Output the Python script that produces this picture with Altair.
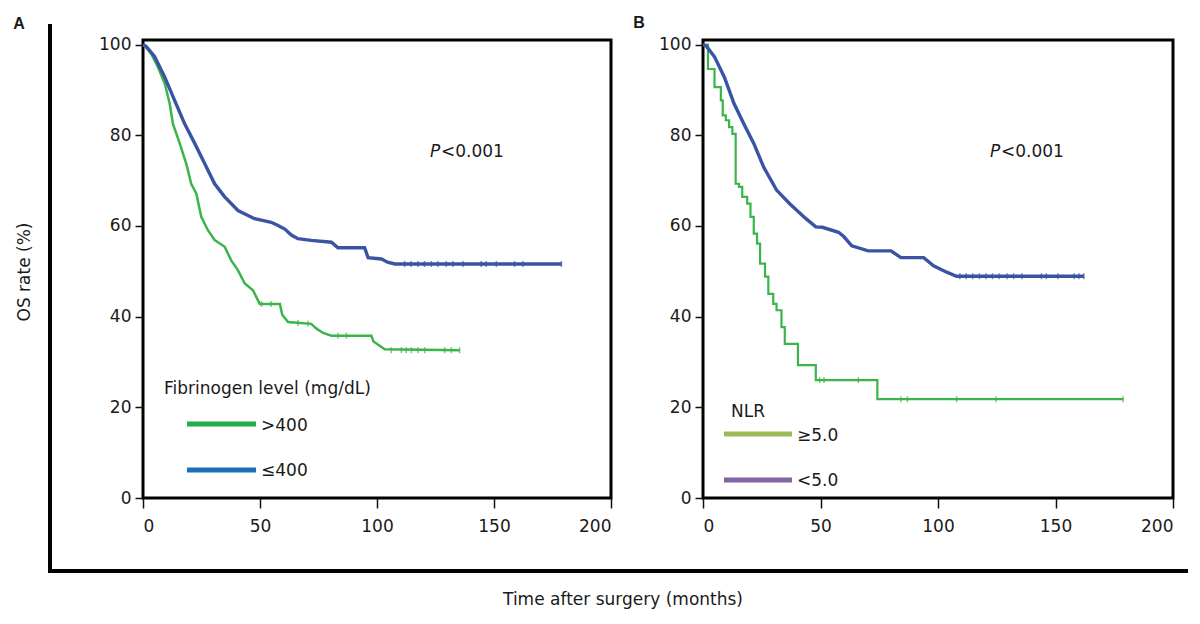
import altair as alt
import pandas as pd

FONT = "DejaVu Sans"
BOLD_FONT = "Liberation Sans"
BLUE = "#3a54a4"
GREEN = "#3bb54a"
LEG_GREEN = "#21ae4b"
LEG_BLUE = "#1c70b8"
LEG_OLIVE = "#9bbb59"
LEG_PURPLE = "#8064a2"

# ---------------- Panel A : Fibrinogen level ----------------
a_blue_t = [0, 1.5, 5.0, 9.3, 13.5, 17.8, 22.1, 26.4, 30.6, 34.9, 40.6, 47.7, 54.8, 57.7,
            60.6, 63.4, 66.2, 71.9, 80.5, 83.3, 94.7, 96.2, 101.9, 104.5, 107.6, 178.8]
a_blue_s = [100, 99.5, 97.3, 92.8, 87.7, 82.5, 78.2, 73.7, 69.3, 66.4, 63.4, 61.6, 60.8, 60.1,
            59.3, 58.0, 57.2, 56.8, 56.4, 55.2, 55.2, 53.0, 52.7, 52.0, 51.6, 51.6]

a_green_t = [0, 0.7, 3.5, 6.4, 9.3, 11.4, 12.8, 15.7, 18.5, 20.6, 22.8, 24.9, 27.8, 30.6,
             34.9, 37.7, 40.6, 43.5, 47.0, 49.9, 58.5, 59.5, 62.0, 71.9, 74.0, 77.0, 80.5,
             97.6, 98.5, 103.3, 135.3]
a_green_s = [100, 99.8, 98.0, 95.0, 91.4, 87.0, 82.5, 78.2, 73.7, 69.3, 67.1, 62.0, 59.0, 56.9,
             55.4, 52.4, 50.2, 47.3, 45.8, 42.8, 42.8, 40.4, 38.8, 38.4, 37.4, 36.4, 35.8,
             35.8, 34.5, 32.8, 32.6]

a_blue_cens_t = [111.8, 114.6, 117.5, 120.3, 123.2, 126.0, 129.6, 132.4, 136.7, 144.5,
                 146.7, 151.0, 158.8, 162.3, 178.8]
a_blue_cens_s = [51.6, 51.6, 51.6, 51.6, 51.6, 51.6, 51.6, 51.6, 51.6, 51.6,
                 51.6, 51.6, 51.6, 51.6, 51.6]
a_green_cens_t = [50.6, 54.8, 66.2, 70.5, 83.3, 86.9, 106.1, 110.4, 112.5, 114.7, 117.5,
                  120.4, 128.9, 131.8, 135.3]
a_green_cens_s = [42.8, 42.8, 38.6, 38.5, 35.8, 35.8, 32.6, 32.6, 32.6, 32.6, 32.6,
                  32.6, 32.6, 32.6, 32.6]

a_legend_title = "Fibrinogen level (mg/dL)"
a_legend_labels = [">400", "≤400"]

# ---------------- Panel B : NLR ----------------
b_blue_t = [0, 1.5, 4.9, 9.1, 13.2, 17.4, 21.6, 25.8, 31.3, 36.9, 43.8, 48.0, 50.8, 57.7,
            60.0, 63.3, 70.3, 80.0, 84.2, 93.9, 98.1, 103.7, 107.9, 162.1]
b_blue_s = [100, 99.6, 97.3, 92.8, 87.0, 82.5, 78.2, 73.0, 67.9, 64.9, 61.6, 59.8, 59.7, 58.6,
            57.6, 55.6, 54.5, 54.5, 53.0, 53.0, 51.2, 49.8, 48.9, 48.9]

b_green_t = [0, 2.1, 4.9, 7.6, 8.4, 9.7, 11.1, 12.5, 13.9, 15.3, 16.7, 18.8, 20.2, 21.6,
             23.0, 24.3, 26.4, 27.8, 29.9, 31.3, 33.4, 34.8, 40.4, 48.0, 74.2, 178.8]
b_green_s = [100, 94.6, 90.6, 87.7, 84.4, 83.3, 81.8, 80.3, 69.3, 68.6, 66.4, 64.9, 62.0, 58.3,
             56.1, 51.7, 48.8, 45.0, 42.8, 41.4, 37.7, 34.0, 29.3, 26.0, 21.8, 21.8]

b_blue_cens_t = [109.3, 112.0, 114.8, 117.6, 120.4, 123.2, 126.0, 129.4, 132.2, 135.7,
                 144.0, 146.1, 151.0, 157.9, 160.0, 162.1]
b_blue_cens_s = [48.9, 48.9, 48.9, 48.9, 48.9, 48.9, 48.9, 48.9, 48.9, 48.9,
                 48.9, 48.9, 48.9, 48.9, 48.9, 48.9]
b_green_cens_t = [49.6, 51.5, 66.1, 84.2, 87.0, 107.9, 124.6, 178.8]
b_green_cens_s = [26.0, 26.0, 26.0, 21.8, 21.8, 21.8, 21.8, 21.8]

b_legend_title = "NLR"
b_legend_labels = ["≥5.0", "<5.0"]

x_ticks = [0, 50, 100, 150, 200]
y_ticks = [0, 20, 40, 60, 80, 100]

x_title = "Time after surgery (months)"
y_title = "OS rate (%)"
p_text = "<0.001"

xsc = alt.Scale(domain=[0, 200], nice=False)
ysc = alt.Scale(domain=[0, 101], nice=False)


def X():
    return alt.X("t:Q", scale=xsc, axis=alt.Axis(values=x_ticks, title=None, format="d"))


def Y():
    return alt.Y("s:Q", scale=ysc, axis=alt.Axis(values=y_ticks, title=None, format="d"))


def curve(t, s, color, width, interp):
    df = pd.DataFrame({"t": t, "s": s, "i": list(range(len(t)))})
    return alt.Chart(df).mark_line(color=color, strokeWidth=width, interpolate=interp).encode(
        x=X(), y=Y(), order="i:Q")


def cens(t, s, color):
    df = pd.DataFrame({"t": t, "s": s})
    return alt.Chart(df).mark_tick(color=color, orient="vertical", size=6, thickness=1.5).encode(
        x=X(), y=Y())


one = pd.DataFrame({"k": [0]})


def txt(text, x, y, size=17, font=FONT, **kw):
    return alt.Chart(one).mark_text(text=text, font=font, fontSize=size, color="#1a1a1a",
                                    baseline="middle", **kw).encode(
        x=alt.value(x), y=alt.value(y))


def seg(x1, x2, y, color, width):
    return alt.Chart(one).mark_rule(color=color, strokeWidth=width).encode(
        x=alt.value(x1), x2=alt.value(x2), y=alt.value(y))


def vseg(x, y1, y2, color, width):
    return alt.Chart(one).mark_rule(color=color, strokeWidth=width).encode(
        x=alt.value(x), y=alt.value(y1), y2=alt.value(y2))


panel_a = alt.layer(
    curve(a_green_t, a_green_s, GREEN, 2.5, "linear"),
    curve(a_blue_t, a_blue_s, BLUE, 3.4, "linear"),
    cens(a_green_cens_t, a_green_cens_s, GREEN),
    cens(a_blue_cens_t, a_blue_cens_s, BLUE),
    txt("P", 287, 112, fontStyle="italic", align="left"),
    txt(p_text, 298, 112, align="left"),
    txt(a_legend_title, 21, 349, align="left"),
    seg(44, 113, 384, LEG_GREEN, 5),
    txt(a_legend_labels[0], 118, 386, align="left"),
    seg(44, 113, 430, LEG_BLUE, 5),
    txt(a_legend_labels[1], 118, 431, align="left"),
    # outer figure frame and shared labels
    vseg(-93, -16, 533, "black", 4),
    seg(-95, 1045, 531, "black", 4),
    txt("A", -124, -16, size=16, font=BOLD_FONT, fontWeight="bold", align="center"),
    txt(y_title, -118, 232, angle=270, align="center"),
    txt(x_title, 480, 560, align="center"),
).properties(width=468, height=458)

panel_b = alt.layer(
    curve(b_green_t, b_green_s, GREEN, 2.2, "step-after"),
    curve(b_blue_t, b_blue_s, BLUE, 3.4, "linear"),
    cens(b_green_cens_t, b_green_cens_s, GREEN),
    cens(b_blue_cens_t, b_blue_cens_s, BLUE),
    txt("P", 287, 112, fontStyle="italic", align="left"),
    txt(p_text, 298, 112, align="left"),
    txt(b_legend_title, 28, 372, align="left"),
    seg(21, 89, 394, LEG_OLIVE, 5),
    txt(b_legend_labels[0], 94, 396, align="left"),
    seg(21, 89, 440, LEG_PURPLE, 5),
    txt(b_legend_labels[1], 94, 441, align="left"),
    txt("B", -64, -17, size=16, font=BOLD_FONT, fontWeight="bold", align="center"),
).properties(width=470, height=458)

chart = alt.hconcat(panel_a, panel_b, spacing=92, bounds="flush").properties(
    padding={"left": 3, "top": 5, "right": 0, "bottom": 0}
).configure_view(
    stroke="black", strokeWidth=3
).configure_axis(
    domain=False, grid=False, tickColor="#111", tickWidth=1.5,
    labelFont=FONT, labelFontSize=17, labelColor="#1a1a1a"
).configure_axisX(
    tickSize=10, labelPadding=10
).configure_axisY(
    tickSize=8, labelPadding=4
)

chart.save("out.html", embed_options={"renderer": "svg", "actions": False})
